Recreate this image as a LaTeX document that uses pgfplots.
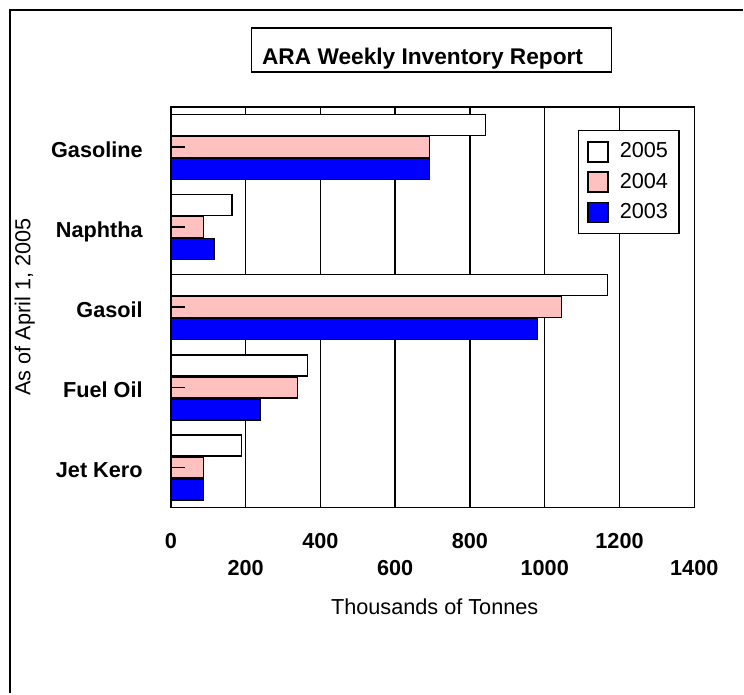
\documentclass[border=0pt]{standalone}
\usepackage{fontspec}
\setmainfont{Liberation Sans}
\usepackage{pgfplots}
\pgfplotsset{compat=1.18}
\definecolor{pinkbar}{RGB}{255,192,192}
\newcommand{\lf}{\fontsize{21.7}{26}\selectfont}
\begin{document}
\lf
\begin{tikzpicture}[x=1pt,y=1pt]
\begin{axis}[
  axis on top,
  at={(171pt,186pt)}, anchor=south west,
  scale only axis, width=524pt, height=401pt,
  xbar, bar width=21pt,
  xmin=0, xmax=1400, ymin=-0.5, ymax=4.5,
  axis line style={line width=1.5pt},
  xtick={0,400,800,1200}, xticklabels={0,400,800,1200},
  extra x ticks={200,600,1000,1400}, extra x tick labels={200,600,1000,1400},
  extra x tick style={xticklabel style={yshift=-27pt}},
  xticklabel style={font=\lf\bfseries, anchor=base, yshift=-41pt},
  major tick length=14pt, tick align=inside, tick style={black, line width=1.5pt},
  xtick pos=bottom, ytick pos=left,
  ytick={0,1,2,3,4},
  yticklabels={Jet Kero, Fuel Oil\hspace{3pt}, Gasoil, Naphtha\hspace{6pt}, Gasoline},
  yticklabel style={font=\lf\bfseries, anchor=base east, inner xsep=0pt, xshift=-28pt, yshift=-10.5pt},
  xlabel={Thousands of Tonnes},
  every axis x label/.style={at={(axis description cs:0.504,0)}, anchor=base, yshift=-107pt, font=\lf},
  ylabel={As of April 1, 2005},
  every axis y label/.style={at={(axis description cs:-0.279,0.5)}, anchor=center, rotate=90, font=\lf},
  legend style={at={(0.777,0.9426)}, anchor=north west, draw=black, line width=1.5pt,
    font=\lf, inner xsep=9pt, inner ysep=10pt, row sep=8pt,
    /tikz/every odd column/.append style={column sep=9pt}},
  legend cell align=left,
  legend image code/.code={\draw[#1, line width=1.5pt] (0pt,-10pt) rectangle (20pt,10pt);},
]
\pgfplotsinvokeforeach{200,400,600,800,1000,1200}{
  \draw[black, line width=1.5pt] (axis cs:#1,-0.5) -- (axis cs:#1,4.5);
}
\addplot[fill=white, draw=black, line width=1.5pt, bar shift=22pt]
  coordinates {(189,0) (366,1) (1168,2) (163,3) (841,4)};
\addplot[fill=pinkbar, draw=black, line width=1.5pt, bar shift=0pt]
  coordinates {(88,0) (339,1) (1045,2) (88,3) (692,4)};
\addplot[fill=blue, draw=black, line width=1.5pt, bar shift=-22pt]
  coordinates {(88,0) (238,1) (980,2) (115,3) (692,4)};
\legend{2005,2004,2003}
\end{axis}
\draw[line width=1.5pt] (10,0) -- (10,684) -- (744,684);
\draw[line width=1.5pt] (252,622) rectangle (612,666);
\node[anchor=base, font=\fontsize{22.7}{27}\selectfont\bfseries] at (423,629) {ARA Weekly Inventory Report};
\path (0,0) rectangle (744,694);
\end{tikzpicture}
\end{document}
